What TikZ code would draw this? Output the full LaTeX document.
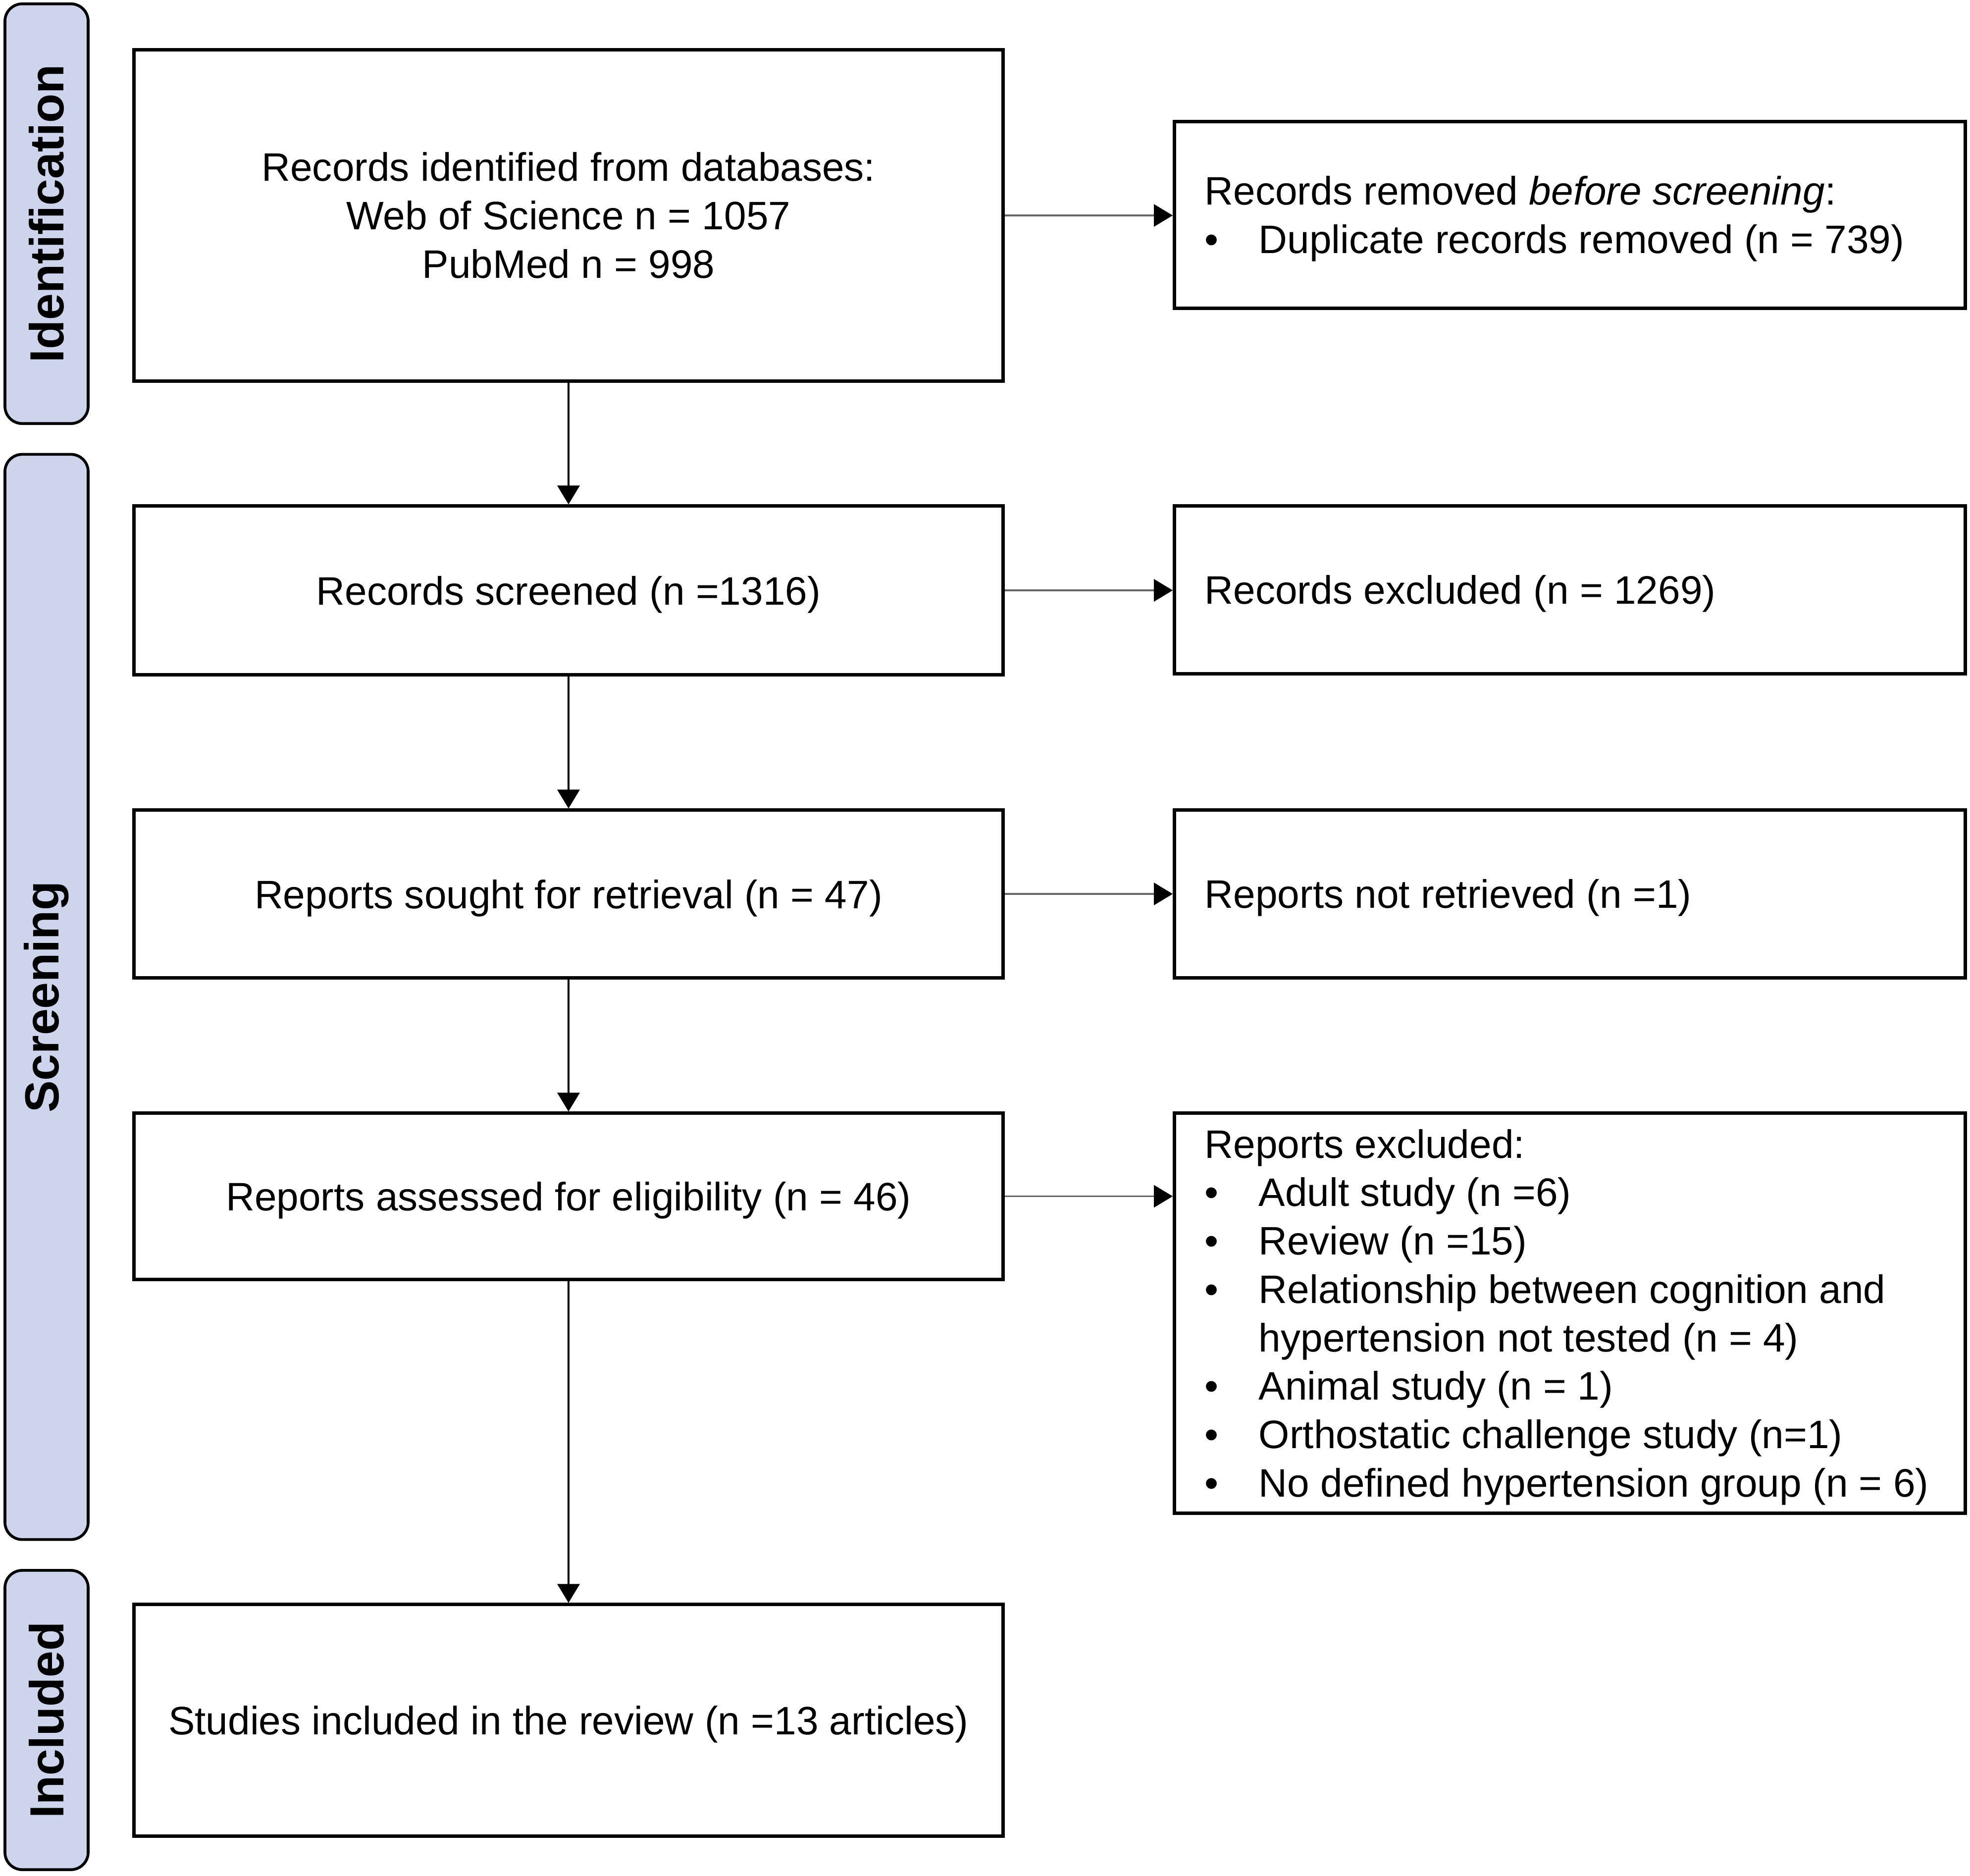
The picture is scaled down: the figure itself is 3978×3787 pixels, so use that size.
\documentclass[tikz,border=0pt]{standalone}
\usepackage{fontspec}
\setmainfont{Liberation Sans}
\usetikzlibrary{arrows.meta}
\definecolor{bandfill}{RGB}{205,212,235}
\newcommand{\bulitem}{\makebox[1.09cm][l]{•}}
\begin{document}
\begin{tikzpicture}[x=0.01cm,y=-0.01cm,
  txt/.style={font=\fontsize{22.8pt}{27.8pt}\selectfont},
  box/.style={draw=black, line width=2pt, fill=white, inner sep=0pt, txt, align=center},
  onebox/.style={box, text depth=0pt},
  rbox/.style={draw=black, line width=2pt, fill=white, inner sep=0pt, minimum width=15.96cm},
  rtext/.style={txt, align=left, inner sep=0pt, anchor=west},
  band/.style={draw=black, line width=1.6pt, fill=bandfill, rounded corners=0.35cm, rotate=90,
     minimum height=1.68cm, inner sep=0pt, font=\bfseries\fontsize{27.5pt}{30pt}\selectfont},
  varrow/.style={line width=1pt, -{Triangle[length=0.38cm,width=0.45cm]}},
  harrow/.style={line width=1pt, draw=black!60, -{Triangle[length=0.38cm,width=0.45cm,fill=black,color=black]}}
]
\useasboundingbox (0,0) rectangle (3978,3787);

% phase bands
\node[band, minimum width=8.47cm] (bid) at (94,431.5) {Identification};
\node[band, minimum width=21.90cm] (bsc) at (94,2013) {Screening};
\node[band, minimum width=6.04cm] (bin) at (94,3473) {Included};

% left column
\node[box, minimum width=17.54cm, minimum height=6.68cm] (b1) at (1148,435)
  {Records identified from databases:\\Web of Science n = 1057\\PubMed n = 998};
\node[onebox, minimum width=17.54cm, minimum height=3.40cm] (b2) at (1148,1192)
  {Records screened (n =1316)};
\node[onebox, minimum width=17.54cm, minimum height=3.38cm] (b3) at (1148,1805)
  {Reports sought for retrieval (n = 47)};
\node[onebox, minimum width=17.54cm, minimum height=3.35cm] (b4) at (1148,2415.5)
  {Reports assessed for eligibility (n = 46)};
\node[onebox, minimum width=17.54cm, minimum height=4.67cm] (b5) at (1148,3473.5)
  {Studies included in the review (n =13 articles)};

% right column
\node[rbox, minimum height=3.76cm] (r1) at (3170,434) {};
\node[rtext] (r1t) at ([xshift=0.64cm,yshift=-0.08cm]r1.west)
  {Records removed \textit{before screening}:\\\bulitem Duplicate records removed (n = 739)};
\node[rbox, minimum height=3.38cm] (r2) at (3170,1191) {};
\node[rtext] (r2t) at ([xshift=0.64cm,yshift=-0.08cm]r2.west) {Records excluded (n = 1269)};
\node[rbox, minimum height=3.38cm] (r3) at (3170,1805) {};
\node[rtext] (r3t) at ([xshift=0.64cm,yshift=-0.08cm]r3.west) {Reports not retrieved (n =1)};
\node[rbox, minimum height=8.07cm] (r4) at (3170,2651.5) {};
\node[rtext] (r4t) at ([xshift=0.64cm,yshift=-0.08cm]r4.west)
  {Reports excluded:\\
   \bulitem Adult study (n =6)\\
   \bulitem Review (n =15)\\
   \bulitem Relationship between cognition and\\
   \hspace*{1.09cm}hypertension not tested (n = 4)\\
   \bulitem Animal study (n = 1)\\
   \bulitem Orthostatic challenge study (n=1)\\
   \bulitem No defined hypertension group (n = 6)};

% connectors
\draw[varrow] (b1) -- (b2);
\draw[varrow] (b2) -- (b3);
\draw[varrow] (b3) -- (b4);
\draw[varrow] (b4) -- (b5);
\draw[harrow] (b1.east) -- (b1.east -| r1.west);
\draw[harrow] (b2.east) -- (b2.east -| r2.west);
\draw[harrow] (b3.east) -- (b3.east -| r3.west);
\draw[harrow] (b4.east) -- (b4.east -| r4.west);
\end{tikzpicture}
\end{document}
